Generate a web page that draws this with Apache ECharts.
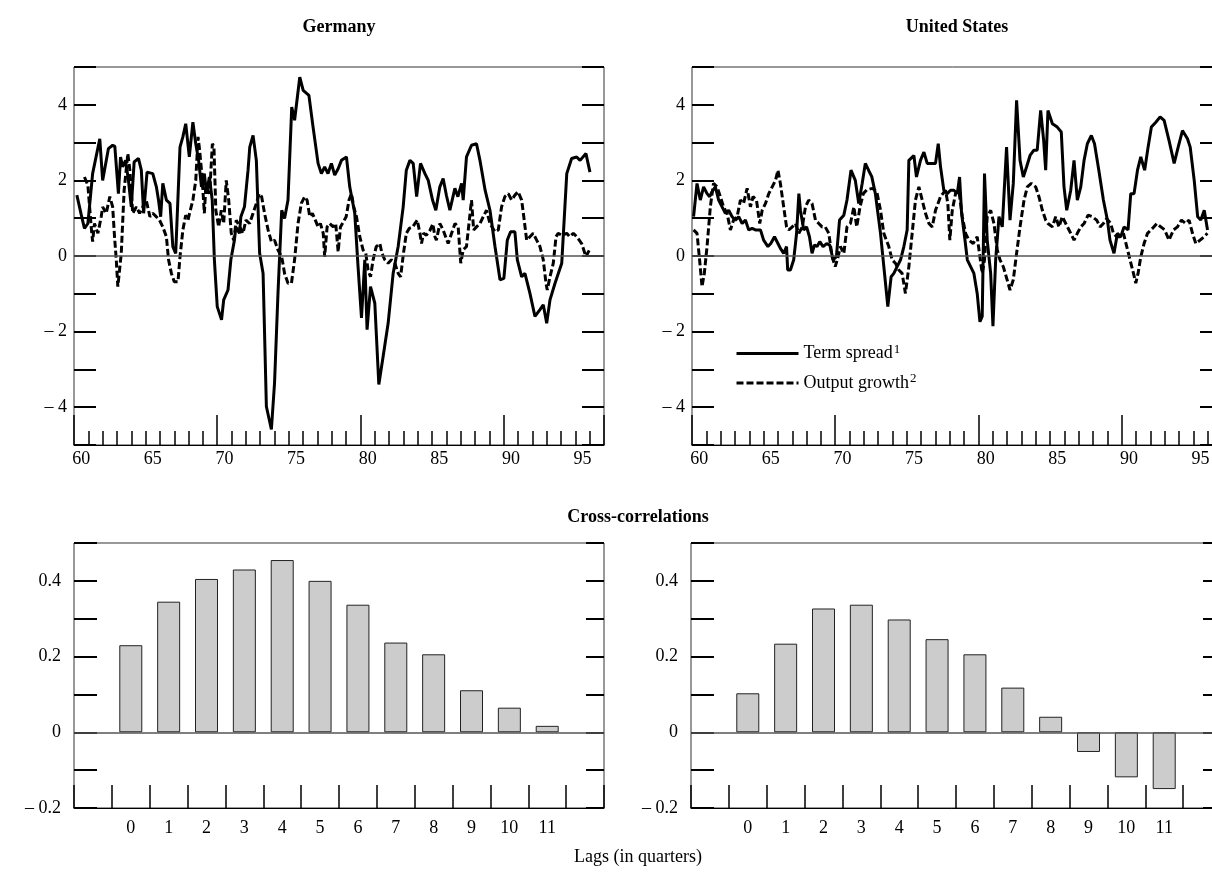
<!DOCTYPE html>
<html><head><meta charset="utf-8">
<script src="https://cdn.jsdelivr.net/npm/echarts@6/dist/echarts.min.js"></script>
<style>html,body{margin:0;padding:0;background:#fff}#c{width:1212px;height:880px}</style>
</head><body><div id="c"></div>
<script>
// ---------- DATA ----------
const yearCats = ['1960','1961','1962','1963','1964','1965','1966','1967','1968','1969','1970','1971','1972','1973','1974','1975','1976','1977','1978','1979','1980','1981','1982','1983','1984','1985','1986','1987','1988','1989','1990','1991','1992','1993','1994','1995','1996'];
const lagCats = ['', '0','1','2','3','4','5','6','7','8','9','10','11', ''];

const deTerm = [[1960.2,1.61],[1960.5,1.1],[1960.73,0.73],[1960.97,0.86],[1961.3,2.18],[1961.8,3.1],[1962.0,2.0],[1962.4,2.84],[1962.7,2.93],[1962.85,2.9],[1963.1,1.65],[1963.25,2.62],[1963.4,2.36],[1963.6,2.53],[1963.8,2.0],[1964.0,1.3],[1964.2,2.49],[1964.5,2.58],[1964.7,2.27],[1964.86,1.13],[1965.1,2.22],[1965.5,2.18],[1965.75,1.83],[1965.9,1.48],[1966.05,1.04],[1966.2,1.92],[1966.45,1.48],[1966.7,1.39],[1966.9,0.25],[1967.1,0.07],[1967.4,2.88],[1967.6,3.15],[1967.8,3.5],[1968.05,2.62],[1968.3,3.54],[1968.5,2.97],[1968.7,2.53],[1968.9,1.83],[1969.1,2.18],[1969.25,1.65],[1969.45,2.09],[1969.65,1.48],[1969.8,-0.1],[1970.0,-1.34],[1970.3,-1.69],[1970.45,-1.16],[1970.75,-0.9],[1970.95,-0.1],[1971.2,0.42],[1971.3,0.77],[1971.55,0.6],[1971.65,1.04],[1971.9,1.3],[1972.15,2.27],[1972.27,2.88],[1972.5,3.19],[1972.73,2.53],[1972.96,0.07],[1973.2,-0.46],[1973.43,-3.98],[1973.78,-4.59],[1974.0,-3.36],[1974.24,-0.99],[1974.5,1.21],[1974.7,0.99],[1974.94,1.48],[1975.2,3.94],[1975.4,3.59],[1975.76,4.73],[1976.0,4.38],[1976.4,4.25],[1976.69,3.41],[1977.04,2.45],[1977.27,2.18],[1977.5,2.36],[1977.73,2.18],[1977.97,2.45],[1978.2,2.14],[1978.44,2.31],[1978.67,2.53],[1979.02,2.62],[1979.25,1.83],[1979.6,1.13],[1979.83,-0.28],[1980.07,-1.64],[1980.3,-0.1],[1980.46,-1.95],[1980.7,-0.81],[1981.0,-1.25],[1981.28,-3.4],[1981.58,-2.66],[1981.93,-1.78],[1982.28,-0.46],[1982.63,0.25],[1982.98,1.3],[1983.2,2.27],[1983.45,2.53],[1983.68,2.45],[1983.92,1.57],[1984.19,2.45],[1984.5,2.18],[1984.73,2.0],[1985.03,1.48],[1985.26,1.21],[1985.54,1.83],[1985.77,2.05],[1986.0,1.6],[1986.24,1.21],[1986.59,1.79],[1986.8,1.57],[1987.06,1.92],[1987.17,1.48],[1987.4,2.62],[1987.75,2.93],[1988.1,2.97],[1988.34,2.53],[1988.7,1.74],[1989.04,1.21],[1989.39,0.25],[1989.74,-0.63],[1990.01,-0.59],[1990.25,0.42],[1990.48,0.64],[1990.78,0.64],[1990.95,-0.1],[1991.25,-0.55],[1991.48,-0.46],[1991.83,-0.99],[1992.18,-1.6],[1992.53,-1.42],[1992.76,-1.29],[1993.0,-1.78],[1993.23,-1.16],[1993.58,-0.72],[1994.05,-0.19],[1994.4,2.18],[1994.74,2.58],[1995.09,2.62],[1995.33,2.53],[1995.74,2.71],[1996.02,2.22]];

const deOutput = [[1960.73,2.09],[1960.97,1.87],[1961.2,0.77],[1961.3,0.38],[1961.43,0.86],[1961.67,0.6],[1961.9,1.04],[1962.0,1.3],[1962.25,1.13],[1962.5,1.57],[1962.7,1.3],[1962.83,0.51],[1962.95,-0.1],[1963.06,-0.81],[1963.3,0.07],[1963.5,1.74],[1963.76,2.71],[1963.9,2.27],[1964.1,1.13],[1964.35,1.3],[1964.58,1.13],[1964.8,1.3],[1965.04,1.48],[1965.3,1.04],[1965.5,1.13],[1965.74,1.04],[1965.97,0.95],[1966.2,0.77],[1966.45,0.51],[1966.6,-0.1],[1966.8,-0.46],[1967.0,-0.68],[1967.26,-0.68],[1967.4,-0.02],[1967.6,0.69],[1967.8,1.08],[1967.96,0.95],[1968.07,1.13],[1968.3,1.48],[1968.5,2.0],[1968.66,3.15],[1968.77,2.8],[1968.9,2.27],[1969.0,1.74],[1969.1,1.13],[1969.2,1.83],[1969.47,1.65],[1969.66,2.97],[1969.77,2.88],[1969.9,1.21],[1970.1,0.77],[1970.28,1.21],[1970.45,0.86],[1970.63,2.0],[1970.8,1.48],[1970.98,0.6],[1971.15,0.42],[1971.33,0.95],[1971.57,0.77],[1971.8,0.6],[1972.0,0.95],[1972.26,0.86],[1972.5,1.13],[1972.73,1.39],[1972.93,1.65],[1973.1,1.57],[1973.3,1.13],[1973.55,0.69],[1973.78,0.38],[1974.0,0.42],[1974.24,0.16],[1974.5,-0.02],[1974.7,-0.46],[1974.94,-0.72],[1975.18,-0.72],[1975.4,-0.1],[1975.64,0.86],[1975.87,1.39],[1976.1,1.57],[1976.27,1.48],[1976.46,1.04],[1976.64,1.13],[1976.8,0.99],[1977.04,0.77],[1977.2,0.86],[1977.4,0.6],[1977.5,-0.02],[1977.67,0.77],[1977.85,0.86],[1978.1,0.77],[1978.27,0.86],[1978.44,0.11],[1978.6,0.77],[1978.8,0.9],[1979.0,1.04],[1979.2,1.48],[1979.37,1.65],[1979.53,1.3],[1979.72,1.04],[1979.95,0.51],[1980.18,0.16],[1980.37,0.07],[1980.53,-0.37],[1980.7,-0.55],[1980.88,-0.1],[1981.1,0.25],[1981.35,0.33],[1981.5,0.07],[1981.7,-0.1],[1981.93,-0.19],[1982.16,-0.1],[1982.4,-0.19],[1982.63,-0.46],[1982.8,-0.55],[1983.0,0.07],[1983.2,0.6],[1983.4,0.73],[1983.65,0.77],[1983.8,0.86],[1983.96,0.95],[1984.15,0.6],[1984.26,0.33],[1984.4,0.6],[1984.6,0.55],[1984.84,0.67],[1985.05,0.85],[1985.2,0.51],[1985.3,0.42],[1985.54,0.86],[1985.77,0.69],[1986.12,0.33],[1986.36,0.6],[1986.6,0.86],[1986.82,0.77],[1987.0,-0.19],[1987.17,0.16],[1987.4,0.25],[1987.6,0.95],[1987.75,1.48],[1987.9,0.69],[1988.1,0.77],[1988.34,0.86],[1988.57,1.04],[1988.8,1.21],[1989.04,0.86],[1989.39,0.64],[1989.62,0.69],[1989.85,1.3],[1990.08,1.57],[1990.32,1.65],[1990.55,1.48],[1990.78,1.61],[1991.0,1.7],[1991.25,1.48],[1991.4,1.04],[1991.6,0.42],[1991.83,0.51],[1992.06,0.6],[1992.3,0.42],[1992.53,0.25],[1992.76,-0.1],[1992.95,-0.72],[1993.04,-0.9],[1993.23,-0.55],[1993.46,-0.19],[1993.65,0.51],[1993.8,0.6],[1994.05,0.55],[1994.4,0.6],[1994.6,0.51],[1994.86,0.6],[1995.1,0.51],[1995.44,0.33],[1995.74,-0.02],[1995.98,0.16]];

const usTerm = [[1960.11,1.04],[1960.35,1.92],[1960.58,1.48],[1960.81,1.83],[1961.05,1.65],[1961.23,1.57],[1961.4,1.7],[1961.63,1.83],[1961.86,1.48],[1962.1,1.3],[1962.33,1.13],[1962.56,1.21],[1962.8,1.04],[1963.03,0.95],[1963.26,1.04],[1963.5,0.86],[1963.73,0.95],[1963.96,0.69],[1964.2,0.73],[1964.43,0.69],[1964.78,0.69],[1965.0,0.42],[1965.3,0.25],[1965.5,0.33],[1965.76,0.51],[1966.0,0.33],[1966.17,0.2],[1966.4,0.07],[1966.6,0.25],[1966.68,-0.37],[1966.87,-0.37],[1967.1,-0.1],[1967.3,0.6],[1967.46,1.65],[1967.57,1.21],[1967.8,0.69],[1968.0,0.77],[1968.2,0.51],[1968.38,0.07],[1968.55,0.29],[1968.73,0.25],[1968.92,0.38],[1969.15,0.25],[1969.4,0.33],[1969.62,0.29],[1969.85,-0.1],[1970.08,-0.02],[1970.3,0.95],[1970.6,1.08],[1970.82,1.48],[1971.1,2.27],[1971.4,2.0],[1971.64,1.39],[1971.88,1.92],[1972.1,2.45],[1972.35,2.25],[1972.55,2.1],[1972.8,1.65],[1973.16,0.6],[1973.44,-0.46],[1973.67,-1.34],[1973.9,-0.55],[1974.09,-0.46],[1974.32,-0.28],[1974.56,-0.1],[1974.79,0.25],[1975.02,0.69],[1975.14,2.53],[1975.49,2.66],[1975.67,2.09],[1975.95,2.53],[1976.19,2.75],[1976.42,2.45],[1976.77,2.45],[1977.0,2.45],[1977.19,2.97],[1977.35,2.36],[1977.58,1.74],[1977.82,1.65],[1978.05,1.74],[1978.28,1.74],[1978.52,1.65],[1978.68,2.09],[1978.82,1.13],[1979.03,0.51],[1979.22,-0.1],[1979.45,-0.28],[1979.68,-0.46],[1979.91,-0.99],[1980.1,-1.74],[1980.26,-1.6],[1980.42,2.18],[1980.61,0.42],[1980.85,-0.46],[1981.01,-1.86],[1981.2,-0.1],[1981.43,1.04],[1981.66,0.77],[1981.96,2.88],[1982.2,0.95],[1982.43,1.92],[1982.66,4.12],[1982.9,2.53],[1983.13,2.09],[1983.36,2.36],[1983.6,2.66],[1983.87,2.8],[1984.1,2.8],[1984.34,3.85],[1984.55,3.06],[1984.69,2.27],[1984.85,3.85],[1985.16,3.5],[1985.5,3.41],[1985.78,3.28],[1985.97,1.83],[1986.16,1.21],[1986.44,1.74],[1986.67,2.53],[1986.9,1.48],[1987.14,1.83],[1987.37,2.53],[1987.6,2.97],[1987.88,3.19],[1988.1,2.97],[1988.4,2.27],[1988.72,1.48],[1989.0,0.95],[1989.18,0.42],[1989.46,0.07],[1989.7,0.6],[1989.93,0.51],[1990.16,0.77],[1990.44,0.69],[1990.63,1.65],[1990.86,1.65],[1991.1,2.27],[1991.33,2.62],[1991.6,2.27],[1991.84,2.88],[1992.07,3.41],[1992.38,3.54],[1992.68,3.68],[1992.96,3.59],[1993.3,3.06],[1993.66,2.45],[1993.94,2.88],[1994.24,3.32],[1994.59,3.1],[1994.78,2.88],[1995.06,2.0],[1995.3,1.04],[1995.52,0.95],[1995.76,1.21],[1995.99,0.69]];

const usOutput = [[1960.11,0.69],[1960.35,0.6],[1960.53,-0.1],[1960.7,-0.81],[1960.86,-0.46],[1961.05,0.25],[1961.28,1.3],[1961.5,1.92],[1961.75,1.83],[1961.98,1.57],[1962.2,1.3],[1962.45,1.13],[1962.68,0.69],[1962.9,0.95],[1963.15,1.04],[1963.38,1.48],[1963.6,1.39],[1963.85,1.79],[1964.08,1.3],[1964.26,1.57],[1964.5,1.48],[1964.73,0.86],[1964.9,1.21],[1965.13,1.39],[1965.36,1.65],[1965.6,1.83],[1965.83,2.0],[1966.0,2.27],[1966.17,1.92],[1966.4,1.3],[1966.6,0.77],[1966.76,0.69],[1967.0,0.77],[1967.22,0.86],[1967.46,0.6],[1967.7,0.77],[1967.92,1.3],[1968.15,1.48],[1968.38,1.39],[1968.62,0.95],[1968.85,0.86],[1969.08,0.77],[1969.3,0.77],[1969.55,0.6],[1969.78,-0.02],[1970.0,-0.28],[1970.2,-0.02],[1970.36,0.25],[1970.6,0.07],[1970.82,0.77],[1971.06,0.86],[1971.3,1.3],[1971.5,0.77],[1971.73,1.3],[1971.96,1.65],[1972.2,1.75],[1972.6,1.79],[1972.9,1.7],[1973.16,1.21],[1973.39,0.6],[1973.74,0.25],[1973.97,-0.1],[1974.2,-0.19],[1974.44,-0.37],[1974.67,-0.46],[1974.9,-0.99],[1975.14,-0.28],[1975.37,0.6],[1975.6,1.48],[1975.84,1.83],[1976.07,1.48],[1976.3,1.13],[1976.54,0.86],[1976.77,0.77],[1977.0,1.21],[1977.35,1.57],[1977.7,1.74],[1977.86,1.39],[1978.0,0.42],[1978.17,1.21],[1978.4,1.65],[1978.63,1.74],[1978.87,1.04],[1979.1,0.6],[1979.33,0.42],[1979.63,0.33],[1979.91,0.51],[1980.1,-0.02],[1980.26,-0.46],[1980.42,-0.1],[1980.61,1.04],[1980.85,1.21],[1981.08,0.86],[1981.31,0.16],[1981.5,-0.1],[1981.73,-0.28],[1982.0,-0.63],[1982.2,-0.9],[1982.43,-0.63],[1982.66,0.07],[1982.9,0.77],[1983.18,1.48],[1983.41,1.83],[1983.69,1.92],[1983.99,1.83],[1984.22,1.57],[1984.46,1.21],[1984.69,0.95],[1984.85,0.86],[1985.16,0.77],[1985.39,1.04],[1985.62,0.77],[1985.85,1.04],[1986.09,0.86],[1986.44,0.6],[1986.67,0.42],[1986.9,0.6],[1987.14,0.77],[1987.37,0.86],[1987.65,1.08],[1987.95,1.04],[1988.25,0.95],[1988.49,0.77],[1988.72,0.86],[1988.95,0.99],[1989.23,0.86],[1989.42,0.6],[1989.65,0.51],[1989.88,0.51],[1990.12,0.6],[1990.35,0.25],[1990.58,-0.1],[1990.82,-0.46],[1990.98,-0.72],[1991.14,-0.46],[1991.33,-0.02],[1991.56,0.33],[1991.8,0.6],[1992.14,0.73],[1992.45,0.86],[1992.73,0.77],[1993.0,0.69],[1993.3,0.42],[1993.61,0.69],[1993.89,0.77],[1994.17,0.95],[1994.47,0.86],[1994.7,0.95],[1994.94,0.6],[1995.17,0.33],[1995.47,0.42],[1995.75,0.51],[1995.98,0.6]];

const deCorr = [0.23, 0.345, 0.405, 0.43, 0.455, 0.40, 0.337, 0.237, 0.206, 0.111, 0.065, 0.017];
const usCorr = [0.103, 0.234, 0.327, 0.337, 0.298, 0.246, 0.206, 0.118, 0.041, -0.052, -0.119, -0.150];

// ---------- CHART ----------
const FONT = '"Liberation Serif", "Times New Roman", serif';
const BLACK = '#000';
const txt = {fontFamily: FONT, fontSize: 18, color: BLACK};

function tsYFmt(v) {
  const r = Math.round(v);
  if (r % 2 !== 0) return '';
  if (r < 0) return '\u2013 ' + Math.abs(r);
  return String(r);
}
function corrYFmt(v) {
  const r = Math.round(v * 10);
  if (r % 2 !== 0) return '';
  if (r === 0) return '0';
  if (r < 0) return '\u2013 ' + (Math.abs(r) / 10).toFixed(1);
  return (r / 10).toFixed(1);
}

const gridBox = {show: true, borderColor: '#333', borderWidth: 1, backgroundColor: 'transparent', containLabel: false, outerBoundsMode: 'none'};
const grids = [
  Object.assign({left: 74, top: 67, width: 530, height: 378}, gridBox),
  Object.assign({left: 692, top: 67, width: 530, height: 378}, gridBox),
  Object.assign({left: 74, top: 543, width: 530, height: 265}, gridBox),
  Object.assign({left: 691, top: 543, width: 530, height: 265}, gridBox)
];

function yearCatAxis(g) {
  return {type: 'category', gridIndex: g, position: 'bottom', data: yearCats, boundaryGap: true,
    axisLine: {show: true, onZero: false, lineStyle: {color: BLACK, width: 1}},
    axisTick: {show: true, inside: true, length: 14, interval: 0, lineStyle: {color: BLACK, width: 1.5}},
    axisLabel: Object.assign({interval: function (i) { return i % 5 === 0; }, formatter: function (v) { return v.slice(2); }, margin: 5}, txt),
    splitLine: {show: false}};
}
function yearValAxis(g) {
  return {type: 'value', gridIndex: g, position: 'top', offset: -378, min: 1960, max: 1997, interval: 10,
    axisLine: {show: false, onZero: false}, axisTick: {show: true, inside: false, length: 30, lineStyle: {color: BLACK, width: 1.5}},
    axisLabel: {show: false}, splitLine: {show: false}};
}
function lagAxis(g) {
  return {type: 'category', gridIndex: g, position: 'bottom', data: lagCats, boundaryGap: true,
    axisLine: {show: true, onZero: false, lineStyle: {color: BLACK, width: 1}},
    axisTick: {show: true, inside: true, length: 23, interval: 0, lineStyle: {color: BLACK, width: 1.5}},
    axisLabel: Object.assign({interval: 0, margin: 11}, txt), splitLine: {show: false}};
}
function tsY(g, pos) {
  return {type: 'value', gridIndex: g, position: pos, min: -5, max: 5, interval: 1,
    axisLine: {show: false, onZero: false}, axisTick: {show: true, inside: true, length: 22, lineStyle: {color: BLACK, width: 2}},
    axisLabel: pos === 'left' ? Object.assign({formatter: tsYFmt, margin: 7}, txt) : {show: false},
    splitLine: {show: false}};
}
function corrY(g, pos) {
  return {type: 'value', gridIndex: g, position: pos, min: -0.2, max: 0.5, interval: 0.1,
    axisLine: {show: false, onZero: false}, axisTick: {show: true, inside: true, length: pos === 'left' ? 23 : 18, lineStyle: {color: BLACK, width: 2}},
    axisLabel: pos === 'left' ? Object.assign({formatter: corrYFmt, margin: 13}, txt) : {show: false},
    splitLine: {show: false}};
}
const zeroLine = {silent: true, symbol: 'none', label: {show: false}, animation: false,
  lineStyle: {color: '#555', width: 1.5, type: 'solid'}, data: [{yAxis: 0}]};

function lineSeries(name, data, xi, yi, dashed) {
  const s = {name: name, type: 'line', xAxisIndex: xi, yAxisIndex: yi, data: data, symbol: 'none', showSymbol: false,
    z: dashed ? 2 : 3,
    lineStyle: {color: BLACK, width: 3, type: dashed ? [7, 3] : 'solid'}, itemStyle: {color: BLACK}};
  if (dashed) s.markLine = zeroLine;
  return s;
}
function barSeries(name, vals, xi, yi) {
  return {name: name, type: 'bar', xAxisIndex: xi, yAxisIndex: yi, data: ['-'].concat(vals, ['-']), barWidth: 23,
    itemStyle: {color: '#cccccc', borderColor: '#222', borderWidth: 1}, markLine: zeroLine};
}

const titleStyle = {fontFamily: FONT, fontSize: 18, fontWeight: 'bold', color: BLACK};
const option = {
  animation: false,
  backgroundColor: '#fff',
  title: [
    {text: 'Germany', left: 339, top: 18, textAlign: 'center', padding: 0, textStyle: titleStyle},
    {text: 'United States', left: 957, top: 18, textAlign: 'center', padding: 0, textStyle: titleStyle},
    {text: 'Cross-correlations', left: 638, top: 508, textAlign: 'center', padding: 0, textStyle: titleStyle},
    {text: 'Lags (in quarters)', left: 638, top: 848, textAlign: 'center', padding: 0, textStyle: {fontFamily: FONT, fontSize: 18, fontWeight: 'normal', color: BLACK}}
  ],
  legend: {
    data: ['Term spread', 'Output growth'], orient: 'vertical', left: 735, top: 343, padding: 0,
    itemWidth: 62, itemHeight: 14, itemGap: 10, selectedMode: false,
    itemStyle: {opacity: 0, color: 'transparent', borderWidth: 0},
    lineStyle: {width: 3, color: BLACK},
    formatter: function (n) { return n === 'Term spread' ? 'Term spread{s|1}' : 'Output growth{s|2}'; },
    textStyle: {fontFamily: FONT, fontSize: 18, color: BLACK,
      rich: {s: {fontFamily: FONT, fontSize: 13, color: BLACK, verticalAlign: 'top', padding: [0, 0, 8, 1]}}}
  },
  grid: grids,
  xAxis: [yearCatAxis(0), yearValAxis(0), yearCatAxis(1), yearValAxis(1), lagAxis(2), lagAxis(3)],
  yAxis: [tsY(0, 'left'), tsY(0, 'right'), tsY(1, 'left'), tsY(1, 'right'), corrY(2, 'left'), corrY(2, 'right'), corrY(3, 'left'), corrY(3, 'right')],
  series: [
    lineSeries('Output growth', deOutput, 1, 0, true),
    lineSeries('Term spread', deTerm, 1, 0, false),
    lineSeries('Output growth', usOutput, 3, 2, true),
    lineSeries('Term spread', usTerm, 3, 2, false),
    barSeries('Germany correlations', deCorr, 4, 4),
    barSeries('United States correlations', usCorr, 5, 6)
  ]
};
const chart = echarts.init(document.getElementById('c'), null, {renderer: 'canvas'});
chart.setOption(option);
</script></body></html>
